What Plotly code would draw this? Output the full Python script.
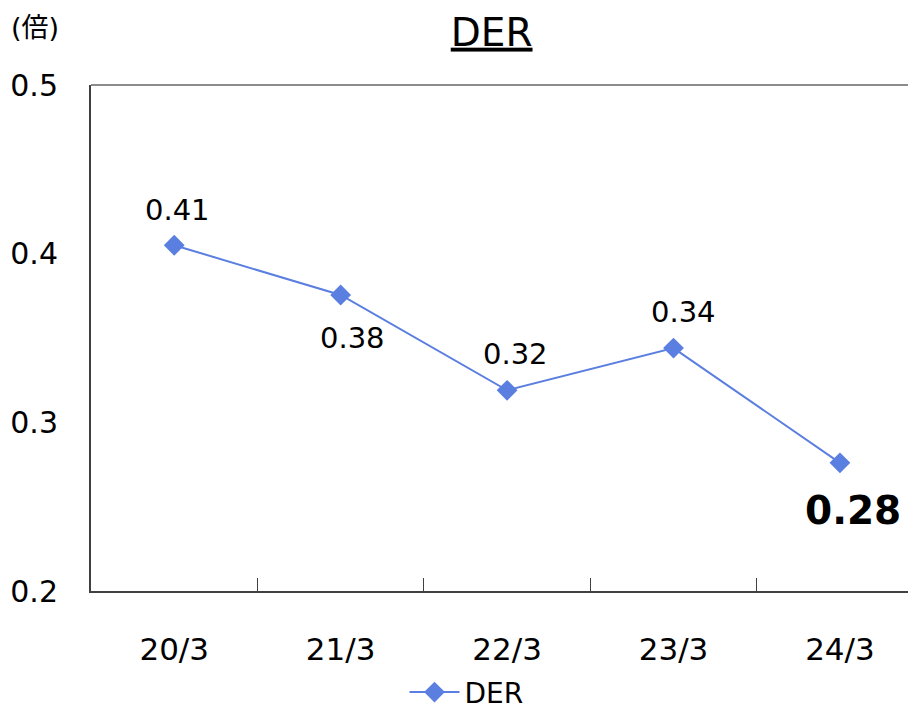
import plotly.graph_objects as go

categories = ["20/3", "21/3", "22/3", "23/3", "24/3"]
der_values = [0.405, 0.3755, 0.319, 0.344, 0.276]
label_texts = ["0.41", "0.38", "0.32", "0.34", "0.28"]
label_dy = [35, -43, 36, 36, -48]
label_dx = [3, 12, 8, 10, 13]
label_bold = [False, False, False, False, True]

FONT = "DejaVu Sans, Noto Sans CJK JP, sans-serif"
BLUE = "#5B7FE0"

fig = go.Figure()
fig.add_trace(go.Scatter(
    x=categories, y=der_values, mode="lines+markers", name="DER",
    line=dict(color=BLUE, width=2),
    marker=dict(symbol="diamond", size=16, color=BLUE),
))

for c, v, t, dy, dx, b in zip(categories, der_values, label_texts, label_dy, label_dx, label_bold):
    fig.add_annotation(
        x=c, y=v, text=f"<b>{t}</b>" if b else t, showarrow=False,
        xshift=dx, yshift=dy,
        font=dict(size=39 if b else 29, color="black", family=FONT),
    )

fig.add_annotation(
    xref="paper", yref="paper", x=-0.099, y=1.1146, xanchor="left", yanchor="middle",
    text="(倍)", showarrow=False, font=dict(size=27, color="black", family=FONT),
)

# top border line (grey)
fig.add_shape(type="line", xref="paper", yref="paper", x0=0, x1=1, y0=1, y1=1,
              line=dict(color="#8c8c8c", width=2))

fig.update_layout(
    width=916, height=711,
    margin=dict(l=83, r=8, t=77, b=128),
    paper_bgcolor="white", plot_bgcolor="white",
    font=dict(family=FONT, color="black"),
    title=dict(text="<u>DER</u>", x=0.528, xref="container", y=0.9662, yref="container",
               xanchor="center", yanchor="middle",
               font=dict(size=39, family=FONT, color="black")),
    showlegend=True,
    legend=dict(orientation="h", x=0.38, y=0.0375, xanchor="left", yanchor="middle",
                yref="container",
                font=dict(size=28, family=FONT, color="black"),
                itemwidth=50),
    xaxis=dict(
        type="category", range=[-0.5, 4.457],
        showline=True, linecolor="#404040", linewidth=2,
        ticks="inside", tickson="boundaries", ticklen=13, tickcolor="#404040", tickwidth=1,
        showgrid=False, zeroline=False,
        tickfont=dict(size=31, family=FONT, color="black"),
        ticklabelstandoff=30,
        automargin=False,
    ),
    yaxis=dict(
        range=[0.2, 0.5], tickvals=[0.2, 0.3, 0.4, 0.5], ticktext=["0.2", "0.3", "0.4", "0.5"],
        showline=True, linecolor="#404040", linewidth=2,
        ticks="", showgrid=False, zeroline=False,
        tickfont=dict(size=30, family=FONT, color="black"),
        ticklabelstandoff=25,
        automargin=False,
    ),
)

fig.write_html("out.html")
